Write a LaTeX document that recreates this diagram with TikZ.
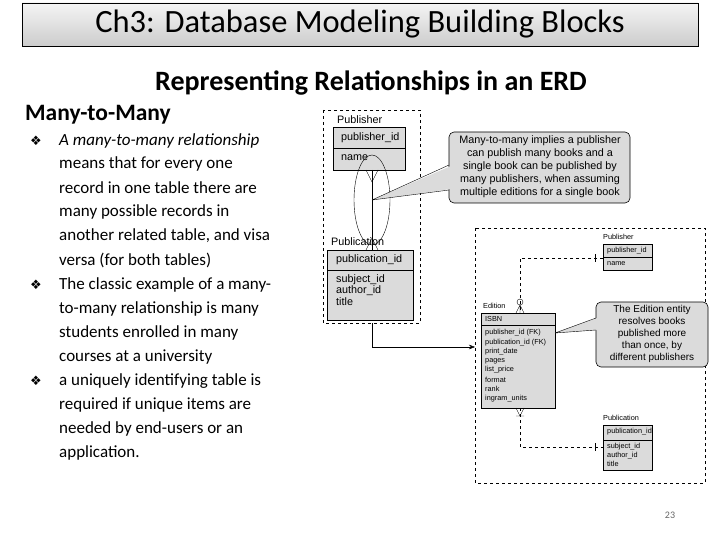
\documentclass[tikz,border=0pt]{standalone}
\usepackage{fontspec}
\setmainfont{Carlito}
\newfontfamily\dv{DejaVu Sans}
\newfontfamily\ar{Liberation Sans}
\usetikzlibrary{shapes.callouts,arrows.meta}
\begin{document}
\begin{tikzpicture}[x=1pt,y=-1pt,
 ent/.style={draw,fill=gray!28,line width=0.6pt},
 lbl/.style={anchor=west,inner sep=0,font=\ar\fontsize{10.8}{13}\selectfont},
 rl/.style={anchor=west,inner sep=0,font=\ar\fontsize{7.3}{8}\selectfont},
 frame/.style={dashed,line width=0.6pt},
 txt/.style={anchor=west,inner sep=0,font=\fontsize{17}{20}\selectfont},
 bul/.style={anchor=west,inner sep=0,font=\dv\fontsize{13}{15}\selectfont},
 co/.style={draw,fill=gray!28,rounded corners=5pt,line width=0.6pt}]
\useasboundingbox (0,0) rectangle (720,540);
% title
\node[draw,top color=gray!8,bottom color=gray!40,minimum width=676,minimum height=43,font=\fontsize{32.5}{36}\selectfont] (title) at (360,24.5) {Ch3: Database Modeling Building Blocks};
\node[font=\bfseries\fontsize{28}{30}\selectfont] (sub) at (371,83) {Representing Relationships in an ERD};
\node[anchor=west,font=\bfseries\fontsize{23.5}{26}\selectfont,inner sep=0] (mm) at (25,115) {Many-to-Many};
% bullets
\node[bul] (b1) at (30,141) {❖};
\node[bul] (b2) at (30,285) {❖};
\node[bul] (b3) at (30,381) {❖};
\node[txt] (t1) at (59,141) {\itshape A many-to-many relationship};
\node[txt] (t2) at (59,164) {means that for every one};
\node[txt] (t3) at (59,188) {record in one table there are};
\node[txt] (t4) at (59,212) {many possible records in};
\node[txt] (t5) at (59,236) {another related table, and visa};
\node[txt] (t6) at (59,260) {versa (for both tables)};
\node[txt] (t7) at (59,285) {The classic example of a many-};
\node[txt] (t8) at (59,309) {to-many relationship is many};
\node[txt] (t9) at (59,333) {students enrolled in many};
\node[txt] (t10) at (59,357) {courses at a university};
\node[txt] (t11) at (59,381) {a uniquely identifying table is};
\node[txt] (t12) at (59,405) {required if unique items are};
\node[txt] (t13) at (59,429) {needed by end-users or an};
\node[txt] (t14) at (59,453) {application.};
% left ERD
\draw[frame] (323,110) rectangle (420,323);
\node[lbl] (lp) at (337,120) {Publisher};
\draw[ent] (333,127) rectangle (405,170); \draw (333,148)--(405,148);
\node[lbl] (lp1) at (341,138) {publisher\_id};
\node[lbl] (lp2) at (341,158) {name};
\draw (372,200) ellipse (18 and 45);
\coordinate (lt) at (372,170); \coordinate (lb) at (372,250);
\draw (lt)--(lb);
\draw (366,170)--(372,182)--(378,170);
\draw (366,250)--(372,238)--(378,250);
\node[lbl] (lpub) at (331,242) {Publication};
\draw[ent] (327,250) rectangle (413,320); \draw (327,270)--(413,270);
\node[lbl] (lq1) at (336,260) {publication\_id};
\node[lbl] (lq2) at (336,280) {subject\_id};
\node[lbl] (lq3) at (336,291) {author\_id};
\node[lbl] (lq4) at (336,302) {title};
% callout 1
\draw[co] (449,132) rectangle (630,203);
\fill[gray!28] (372,200)--(451,166)--(451,189)--cycle;
\draw (372,200)--(449,165) (372,200)--(449,190);
\node[align=center,font=\ar\fontsize{10.8}{13}\selectfont] (c1) at (540,167) {Many-to-many implies a publisher\\can publish many books and a\\single book can be published by\\many publishers, when assuming\\multiple editions for a single book};
% arrow
\coordinate (ab) at (372,323); \coordinate (ae) at (475,347);
\draw[-{Stealth[length=6pt]}] (ab)|-(ae);
% right ERD
\draw[frame] (475,228) rectangle (705,483);
\node[rl] (rp) at (603,237) {Publisher};
\draw[ent] (603,244) rectangle (652,270); \draw (603,257)--(652,257);
\node[rl] (rp1) at (607,251) {publisher\_id};
\node[rl] (rp2) at (607,264) {name};
\node[rl] (re) at (483,306) {Edition};
\draw[ent] (481,313) rectangle (555,408); \draw (481,325)--(555,325);
\foreach \t/\y in {ISBN/319,publisher\_id (FK)/333,publication\_id (FK)/343,print\_date/352,pages/361,list\_price/370,format/380,rank/389,ingram\_units/399}
  \node[rl] at (485,\y) {\t};
\node[rl] (rq) at (603,418) {Publication};
\draw[ent] (603,425) rectangle (652,470); \draw (603,440)--(652,440);
\node[rl] (rq1) at (607,432) {publication\_id};
\node[rl] (rq2) at (607,447) {subject\_id};
\node[rl] (rq3) at (607,456) {author\_id};
\node[rl] (rq4) at (607,464) {title};
\draw[dashed] (603,258) -| (520,313);
\draw (595,254)--(595,262);
\draw (520,302)circle(3);
\draw (516,313)--(520,305)--(524,313) (520,305)--(520,313);
\draw[dashed] (520,408) |- (603,447);
\draw (595,443)--(595,451);
\draw (516,408)--(520,416)--(524,408) (516,416)--(524,416);
% callout 2
\draw[co] (596,302) rectangle (708,367);
\fill[gray!28] (555,333)--(597,318)--(597,330)--cycle;
\draw (555,333)--(596,318) (555,333)--(596,330);
\node[align=center,font=\ar\fontsize{10}{12}\selectfont] (c2) at (652,334) {The Edition entity\\resolves books\\published more\\than once, by\\different publishers};
\node[font=\fontsize{10}{12}\selectfont,text=gray!80!black] (pg) at (670,515) {23};
\end{tikzpicture}
\end{document}
